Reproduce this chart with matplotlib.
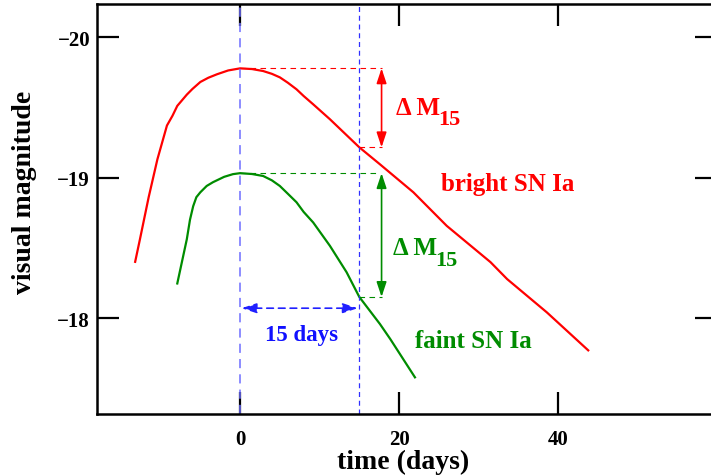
import matplotlib
matplotlib.use("Agg")
import matplotlib.pyplot as plt

plt.rcParams["font.family"] = ["Liberation Serif", "DejaVu Serif"]
plt.rcParams["font.weight"] = "bold"

# Light curves (days from maximum, visual magnitude)
bright_days = [-13.2, -12.6, -11.5, -10.4, -9.2, -8.5, -7.9, -6.7, -6.0, -5.0, -4.0,
               -2.9, -1.5, 0.0, 1.5, 2.9, 4.0, 5.0, 6.0, 7.1, 8.0, 9.2, 11.3, 15.0,
               17.6, 21.8, 26.0, 31.5, 33.6, 38.6, 43.8]
bright_mag = [-18.40, -18.56, -18.86, -19.13, -19.37, -19.44, -19.51, -19.59, -19.63,
              -19.68, -19.71, -19.735, -19.762, -19.777, -19.772, -19.758, -19.738,
              -19.713, -19.675, -19.628, -19.58, -19.521, -19.415, -19.215, -19.094,
              -18.895, -18.656, -18.398, -18.277, -18.04, -17.77]

faint_days = [-7.9, -6.7, -6.3, -5.9, -5.5, -5.0, -4.2, -3.4, -2.0, -0.9, 0.0, 1.5,
              2.9, 4.0, 5.0, 6.0, 7.1, 8.0, 9.2, 11.3, 13.4, 15.0, 17.6, 18.9, 22.0]
faint_mag = [-18.246, -18.561, -18.70, -18.796, -18.86, -18.895, -18.94, -18.967,
             -19.005, -19.024, -19.031, -19.025, -19.011, -18.98, -18.94, -18.885,
             -18.824, -18.755, -18.68, -18.514, -18.326, -18.15, -17.957, -17.85,
             -17.578]

t_peak = 0
t_15 = 15
bright_peak, bright_15 = -19.777, -19.215
faint_peak, faint_15 = -19.031, -18.15
arrow_x = 17.8

fig = plt.figure(figsize=(7.11, 4.77), dpi=100)
ax = fig.add_axes([97 / 711, 1 - 415 / 477, 620 / 711, 410 / 477])

red = "#ff0000"
green = "#008c00"

ax.plot(bright_days, bright_mag, color=red, lw=1.6)
ax.plot(faint_days, faint_mag, color=green, lw=1.6)

# vertical markers at maximum and 15 days later
ax.axvline(t_peak, color="#6e6eff", lw=1.1, ls=(0, (6, 4)))
ax.axvline(t_15, color="#3030ff", lw=0.9, ls=(0, (4, 3)))

# horizontal guides
ax.plot([t_peak, arrow_x], [bright_peak, bright_peak], color=red, lw=0.8, ls=(0, (5, 4)))
ax.plot([t_15, arrow_x], [bright_15, bright_15], color=red, lw=0.8, ls=(0, (5, 4)))
ax.plot([t_peak, arrow_x - 0.5], [faint_peak, faint_peak], color=green, lw=0.8, ls=(0, (5, 4)))
ax.plot([t_15, arrow_x], [faint_15, faint_15], color=green, lw=0.8, ls=(0, (5, 4)))

arrow_kw = dict(arrowstyle="<|-|>,head_length=0.9,head_width=0.3", lw=1.2,
                shrinkA=0, shrinkB=0)
ax.annotate("", xy=(arrow_x, bright_peak), xytext=(arrow_x, bright_15),
            arrowprops=dict(color=red, **arrow_kw))
ax.annotate("", xy=(arrow_x, faint_peak), xytext=(arrow_x, faint_15),
            arrowprops=dict(color=green, **arrow_kw))
ax.annotate("", xy=(t_peak + 0.2, -18.07), xytext=(t_15 - 0.2, -18.07),
            arrowprops=dict(color="#2020ff", linestyle=(0, (4, 3)), **arrow_kw))

# labels
ax.text(19.6, -19.50, "Δ M", color=red, fontsize=18, va="center", ha="left")
ax.text(24.9, -19.415, "15", color=red, fontsize=16, va="center", ha="left")
ax.text(19.3, -18.50, "Δ M", color=green, fontsize=18, va="center", ha="left")
ax.text(24.6, -18.41, "15", color=green, fontsize=16, va="center", ha="left")
ax.text(25.3, -18.96, "bright SN Ia", color=red, fontsize=18, va="center", ha="left")
ax.text(22.0, -17.84, "faint SN Ia", color=green, fontsize=18, va="center", ha="left")
ax.text(7.7, -17.88, "15 days", color="#1010ff", fontsize=16.5, va="center", ha="center")

ax.set_xlim(-18, 60)
ax.set_ylim(-17.317, -20.235)
ax.set_xticks([0, 20, 40])
ax.set_yticks([-20, -19, -18])
ax.set_yticklabels(["−20", "−19", "−18"])
ax.tick_params(direction="in", length=16, width=1.6, labelsize=15,
               top=True, right=True)
ax.tick_params(axis="x", pad=11)
ax.tick_params(axis="y", pad=5)
for s in ax.spines.values():
    s.set_linewidth(1.8)

fig.text(403 / 711, 1 - 462 / 477, "time (days)", fontsize=20, ha="center", va="center")
fig.text(25 / 711, 1 - 192 / 477, "visual magnitude", fontsize=20, ha="center",
         va="center", rotation=90)

fig.savefig("out.png", dpi=100)
